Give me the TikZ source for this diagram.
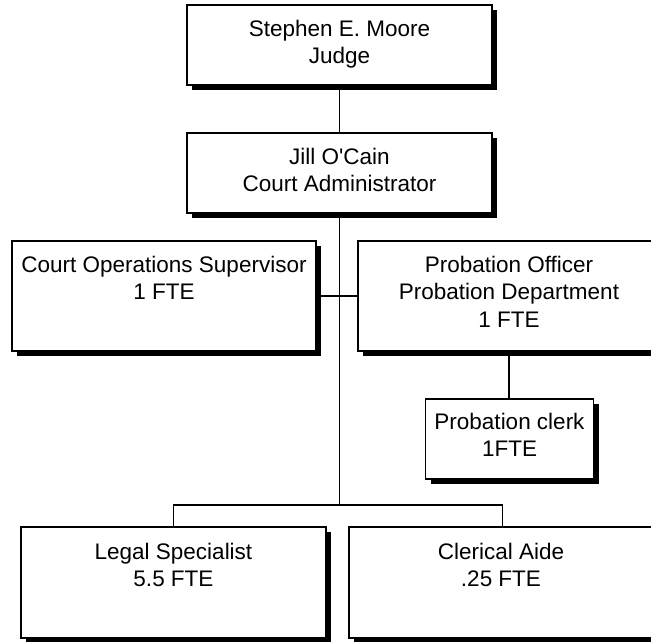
\documentclass[tikz,border=0pt]{standalone}
\usepackage{fontspec}
\setmainfont{Liberation Sans}
\usetikzlibrary{shadows,calc}
\tikzset{
  orgbox/.style={draw=black, line width=1.5pt, fill=white, inner sep=0pt,
    drop shadow={shadow xshift=5pt, shadow yshift=-5pt, fill=black, opacity=1}},
  orgtext/.style={anchor=base, inner sep=0pt, font=\fontsize{22.5}{27.5}\selectfont},
  link/.style={line width=1.5pt, draw=black}
}
\newcommand{\orglines}[1]{\begin{tabular}[t]{@{}c@{}}#1\end{tabular}}
\begin{document}
\begin{tikzpicture}[x=1pt, y=-1pt]
\useasboundingbox (0,0) rectangle (651,642);
\fill[white] (0,0) rectangle (651,642);
\clip (0,0) rectangle (651,642);
% boxes
\node[orgbox, minimum width=305pt, minimum height=80pt] (judge) at (339.5,45) {};
\node[orgbox, minimum width=305pt, minimum height=80pt] (admin) at (339.5,173) {};
\node[orgbox, minimum width=304pt, minimum height=110pt] (ops) at (164,296) {};
\node[orgbox, minimum width=302pt, minimum height=110pt] (prob) at (509,296) {};
\node[orgbox, minimum width=168pt, minimum height=80pt] (clerk) at (509.5,439) {};
\node[orgbox, minimum width=305pt, minimum height=111pt] (legal) at (173.5,582.5) {};
\node[orgbox, minimum width=307pt, minimum height=111pt] (cler) at (502.5,582.5) {};
% texts
\node[orgtext] (tjudge) at ($(judge.north)+(0,32)$) {\orglines{Stephen E. Moore\\Judge}};
\node[orgtext] (tadmin) at ($(admin.north)+(0,32)$) {\orglines{Jill O\textquotesingle Cain\\Court Administrator}};
\node[orgtext] (tops) at ($(ops.north)+(0,32)$) {\orglines{Court Operations Supervisor\\1 FTE}};
\node[orgtext] (tprob) at ($(prob.north)+(0,32)$) {\orglines{Probation Officer\\Probation Department\\1 FTE}};
\node[orgtext] (tclerk) at ($(clerk.north)+(0,31)$) {\orglines{Probation clerk\\1FTE}};
\node[orgtext] (tlegal) at ($(legal.north)+(0,33)$) {\orglines{Legal Specialist\\5.5 FTE}};
\node[orgtext] (tcler) at ($(cler.north)+(-1.5,33)$) {\orglines{Clerical Aide\\.25 FTE}};
% connectors
\coordinate (bus) at (339.5,505);
\draw[link] (judge.south) -- (admin.north);
\draw[link] (admin.south) -- (bus);
\draw[link] (ops.east) -- (prob.west);
\draw[link] (prob.south) -- (prob.south |- clerk.north);
\draw[link] (legal.north) -- (legal.north |- bus) -- (bus -| cler.north) -- (cler.north);
\end{tikzpicture}
\end{document}
